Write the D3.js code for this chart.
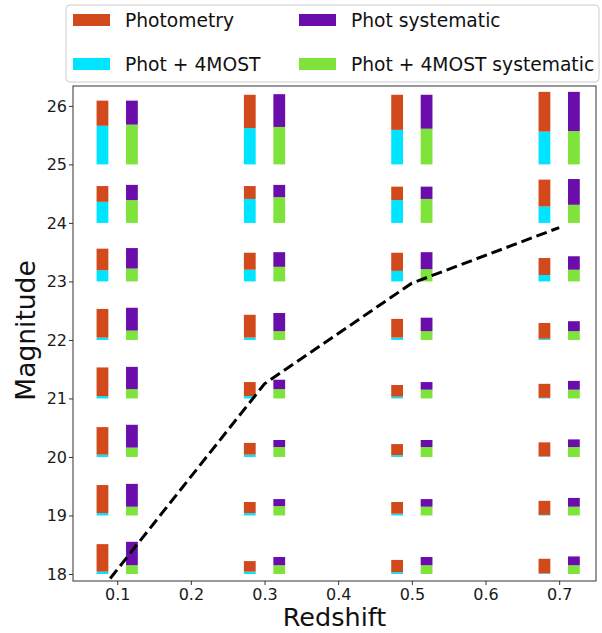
<!DOCTYPE html>
<html><head><meta charset="utf-8">
<script src="https://cdn.jsdelivr.net/npm/d3@7"></script>
<style>body{margin:0;background:#fff;} svg{display:block;font-family:"DejaVu Sans",sans-serif;}</style>
</head><body>
<script>
const redshifts = [0.1, 0.3, 0.5, 0.7];
const magnitudes = [18, 19, 20, 21, 22, 23, 24, 25];
// tops of bars (magnitude + error extent), index by redshift then magnitude
const photometry = [
  [18.51, 19.52, 20.51, 21.53, 22.53, 23.56, 24.63, 26.09],
  [18.22, 19.23, 20.24, 21.28, 22.43, 23.49, 24.63, 26.19],
  [18.24, 19.23, 20.22, 21.23, 22.36, 23.49, 24.62, 26.19],
  [18.26, 19.25, 20.25, 21.25, 22.29, 23.40, 24.74, 26.24]
];
const phot4most = [
  [18.04, 19.04, 20.04, 21.04, 22.04, 23.19, 24.36, 25.66],
  [18.04, 19.04, 20.04, 21.04, 22.04, 23.20, 24.41, 25.62],
  [18.03, 19.03, 20.03, 21.03, 22.04, 23.18, 24.39, 25.59],
  [18.01, 19.01, 20.01, 21.01, 22.02, 23.11, 24.28, 25.56]
];
const photSys = [
  [18.55, 19.54, 20.55, 21.54, 22.55, 23.57, 24.65, 26.09],
  [18.29, 19.28, 20.29, 21.32, 22.46, 23.50, 24.65, 26.20],
  [18.29, 19.28, 20.29, 21.28, 22.38, 23.50, 24.62, 26.19],
  [18.30, 19.30, 20.30, 21.30, 22.32, 23.43, 24.75, 26.24]
];
const phot4mostSys = [
  [18.15, 19.15, 20.16, 21.16, 22.16, 23.22, 24.39, 25.68],
  [18.15, 19.16, 20.17, 21.16, 22.15, 23.25, 24.44, 25.64],
  [18.15, 19.15, 20.17, 21.15, 22.15, 23.21, 24.41, 25.61],
  [18.15, 19.15, 20.17, 21.15, 22.15, 23.20, 24.31, 25.57]
];
const limitZ = [0.05, 0.3, 0.5, 0.7];
const limitMag = [17.28, 21.25, 22.97, 23.92];
const xTicks = [0.1, 0.2, 0.3, 0.4, 0.5, 0.6, 0.7];
const yTicks = [18, 19, 20, 21, 22, 23, 24, 25, 26];
const legendLabels = ["Photometry", "Phot systematic", "Phot + 4MOST", "Phot + 4MOST systematic"];
const colors = {phot: "#d24a1c", sys: "#6a0dab", p4: "#00e5ff", p4sys: "#7ee33a"};

const W = 602, H = 633;
const margin = {left: 73, right: 6, top: 86, bottom: 52};
const svg = d3.select("body").append("svg").attr("width", W).attr("height", H);
const x = d3.scaleLinear().domain([0.04, 0.75]).range([margin.left, W - margin.right]);
const y = d3.scaleLinear().domain([17.88, 26.34]).range([H - margin.bottom, margin.top]);

svg.append("defs").append("clipPath").attr("id", "clip")
  .append("rect").attr("x", margin.left).attr("y", margin.top)
  .attr("width", W - margin.left - margin.right).attr("height", H - margin.top - margin.bottom);

const g = svg.append("g").attr("clip-path", "url(#clip)");
const bw = 0.016;
function bars(lower, upper, offset, colBottom, colTop) {
  redshifts.forEach((z, i) => {
    magnitudes.forEach((m, j) => {
      const xc = z + offset;
      const x0 = x(xc - bw / 2), x1 = x(xc + bw / 2);
      g.append("rect").attr("x", x0).attr("width", x1 - x0)
        .attr("y", y(lower[i][j])).attr("height", y(m) - y(lower[i][j]))
        .attr("fill", colBottom);
      g.append("rect").attr("x", x0).attr("width", x1 - x0)
        .attr("y", y(upper[i][j])).attr("height", y(lower[i][j]) - y(upper[i][j]))
        .attr("fill", colTop);
    });
  });
}
bars(phot4most, photometry, -0.02, colors.p4, colors.phot);
bars(phot4mostSys, photSys, 0.02, colors.p4sys, colors.sys);

const lineData = limitZ.map((z, i) => [z, limitMag[i]]);
g.append("path").datum(lineData)
  .attr("d", d3.line().x(d => x(d[0])).y(d => y(d[1])))
  .attr("fill", "none").attr("stroke", "#000").attr("stroke-width", 3)
  .attr("stroke-dasharray", "11,5");

// axes
const xAxis = svg.append("g").attr("transform", `translate(0,${H - margin.bottom})`)
  .call(d3.axisBottom(x).tickValues(xTicks).tickFormat(d3.format(".1f")).tickSize(4).tickSizeOuter(0));
const yAxis = svg.append("g").attr("transform", `translate(${margin.left},0)`)
  .call(d3.axisLeft(y).tickValues(yTicks).tickFormat(d3.format("d")).tickSize(4).tickSizeOuter(0));
[xAxis, yAxis].forEach(a => {
  a.select(".domain").remove();
  a.selectAll("text").attr("font-size", 16).attr("fill", "#1a1a1a").attr("font-family", "DejaVu Sans");
  a.selectAll("line").attr("stroke", "#333");
});
xAxis.selectAll("text").attr("dy", "0.85em").attr("y", 5);
yAxis.selectAll("text").attr("x", -6);

// frame
svg.append("rect").attr("x", margin.left).attr("y", margin.top)
  .attr("width", W - margin.left - margin.right).attr("height", H - margin.top - margin.bottom)
  .attr("fill", "none").attr("stroke", "#333").attr("stroke-width", 1);

svg.append("text").attr("x", (margin.left + W - margin.right) / 2).attr("y", 626)
  .attr("text-anchor", "middle").attr("font-size", 25.5).attr("fill", "#111").text("Redshift");
svg.append("text").attr("transform", `translate(35,${(margin.top + H - margin.bottom) / 2 - 3}) rotate(-90)`)
  .attr("text-anchor", "middle").attr("font-size", 26.5).attr("fill", "#111").text("Magnitude");

// legend
const lg = svg.append("g");
lg.append("rect").attr("x", 66).attr("y", 5).attr("width", 533).attr("height", 77).attr("rx", 4)
  .attr("fill", "#fff").attr("fill-opacity", 0.9).attr("stroke", "#ccc").attr("stroke-width", 1);
const legendColors = [colors.phot, colors.sys, colors.p4, colors.p4sys];
legendLabels.forEach((lab, i) => {
  const col = i % 2, row = Math.floor(i / 2);
  const lx = col === 0 ? 73 : 299;
  const ly = row === 0 ? 20 : 64;
  lg.append("rect").attr("x", lx).attr("y", ly - 6).attr("width", 37).attr("height", 12).attr("fill", legendColors[i]);
  lg.append("text").attr("x", lx + 52).attr("y", ly).attr("dy", "0.35em")
    .attr("font-size", 18.7).attr("fill", "#111").text(lab);
});
</script>
</body></html>
